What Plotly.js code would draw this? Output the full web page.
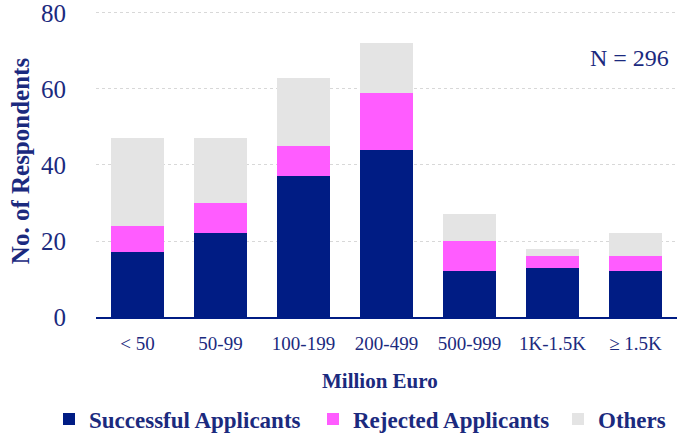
<!DOCTYPE html>
<html><head><meta charset="utf-8">
<script src="https://cdn.plot.ly/plotly-3.0.1.min.js"></script>
<style>body{margin:0}#c{width:680px;height:435px}</style>
</head><body><div id="c"></div>
<script>
const categories = ["< 50", "50-99", "100-199", "200-499", "500-999", "1K-1.5K", "≥ 1.5K"];
const successful = [17, 22, 37, 44, 12, 13, 12];
const rejected = [7, 8, 8, 15, 8, 3, 4];
const others = [23, 17, 18, 13, 7, 2, 6];
const totalN = 296;

const navy = "#001c84";
const textCol = "#1b2a7e";
const font = "Liberation Serif, Times New Roman, serif";

const mk = (name, y, color, lg) => ({type: "bar", name, x: categories, y, legend: lg, marker: {color, line: {width: 0}}, hoverinfo: "skip"});
const data = [
  mk("Successful Applicants", successful, navy, "legend"),
  mk("Rejected Applicants", rejected, "#ff5cff", "legend2"),
  mk("Others", others, "#e4e4e4", "legend3")
];
const lg = (xpx) => ({orientation: "h", xref: "container", yref: "container", x: xpx / 680, xanchor: "left", y: 16 / 435, yanchor: "middle",
  font: {size: 23, color: textCol, weight: "bold"}, itemwidth: 30, bgcolor: "rgba(0,0,0,0)", borderwidth: 0});
const L = 96, R = 3, T = 5, B = 118, W = 680, H = 435;
const pw = W - L - R, ph = H - T - B;
const layout = {
  width: W, height: H,
  margin: {l: L, r: R, t: T, b: B, autoexpand: false},
  barmode: "stack", bargap: 0.36,
  paper_bgcolor: "#fff", plot_bgcolor: "#fff",
  font: {family: font, color: textCol},
  showlegend: true,
  legend: lg(49), legend2: lg(313), legend3: lg(558),
  xaxis: {
    showgrid: false, showline: true, linecolor: navy, linewidth: 2,
    ticks: "outside", ticklen: 8, tickcolor: "rgba(0,0,0,0)",
    tickfont: {size: 19, color: textCol}
  },
  yaxis: {
    range: [0, 82.1], tickvals: [0, 20, 40, 60, 80], showline: false, zeroline: false,
    showgrid: true, gridcolor: "#d8d8d8", griddash: "dot", gridwidth: 1,
    ticks: "outside", ticklen: 24, tickcolor: "rgba(0,0,0,0)", ticklabeloverflow: "allow",
    tickfont: {size: 25, color: textCol},
    title: {text: "<b>No. of Respondents</b>", font: {size: 25, color: textCol}, standoff: 4}
  },
  annotations: [{
    text: "N = " + totalN, xref: "paper", yref: "paper", x: 0.99, y: 0.83,
    xanchor: "right", yanchor: "middle", showarrow: false, font: {size: 24, color: textCol}
  }, {
    text: "<b>Million Euro</b>", xref: "paper", yref: "paper", x: (380 - L) / pw, y: (H - B - 381) / ph,
    xanchor: "center", yanchor: "middle", showarrow: false, font: {size: 21, color: textCol}
  }]
};
Plotly.newPlot("c", data, layout, {displayModeBar: false, staticPlot: true});
</script></body></html>
